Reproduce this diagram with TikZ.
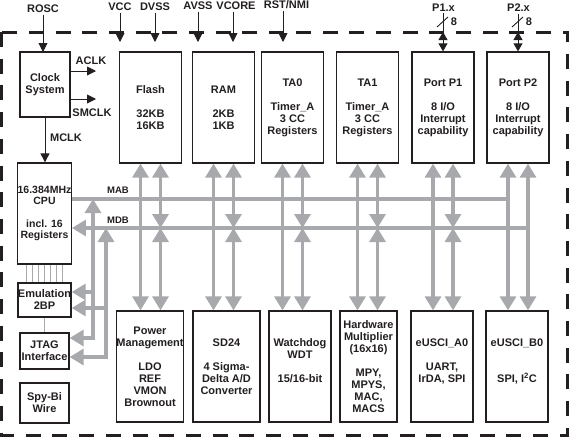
\documentclass[tikz,border=0pt]{standalone}
\usepackage{fontspec}
\setmainfont{Liberation Sans}
\usepackage{tikz}
\usetikzlibrary{arrows.meta,positioning}
\definecolor{ink}{HTML}{231F20}
\definecolor{busgray}{HTML}{A7A9AC}
\tikzset{
  every node/.style={font=\fontsize{11}{12}\selectfont\bfseries,text=ink},
  blk/.style={draw=ink,line width=1.3pt,fill=white,align=center,inner sep=0pt},
  topblk/.style={blk,minimum width=62pt,minimum height=111pt},
  lowblk/.style={blk,minimum height=111pt},
  sideblk/.style={blk,minimum width=49pt},
  pinlbl/.style={inner sep=1.5pt},
  pinarr/.style={draw=ink,line width=0.9pt,-{Triangle[length=9pt,width=9pt]}},
  pindbl/.style={draw=ink,line width=0.9pt,{Triangle[length=8pt,width=9pt]}-{Triangle[length=8pt,width=9pt]}},
  pinline/.style={draw=ink,line width=0.9pt},
  bus/.style={draw=busgray,line width=3.2pt},
  busarr/.style={bus,-{Triangle[length=14pt,width=16pt]}},
  busdbl/.style={bus,{Triangle[length=14pt,width=16pt]}-{Triangle[length=14pt,width=16pt]}},
  link/.style={draw=busgray,line width=0.6pt},
  busname/.style={font=\fontsize{9.5}{10}\selectfont\bfseries},
  border/.style={draw=ink,line width=3pt,dash pattern=on 15pt off 11.7pt}
}
\begin{document}
\begin{tikzpicture}[x=1pt,y=-1pt]
  \useasboundingbox (0,0) rectangle (569,437);
  \draw[border] (1.5,32) rectangle (567.5,435);

  \node[sideblk,minimum width=50pt,minimum height=65pt] (clk) at (45,84.5) {Clock\\System};
  \node[blk,minimum width=52pt,minimum height=101pt,font=\fontsize{10.5}{11.2}\selectfont\bfseries] (cpu) at (44.5,213.5) {16.384MHz\\CPU\\~\\incl. 16\\Registers};
  \node[sideblk,minimum height=34pt] (emu) at (44.5,300) {Emulation\\2BP};
  \node[sideblk,minimum height=36pt] (jtag) at (44.5,351) {JTAG\\Interface};
  \node[sideblk,minimum height=40pt] (spy) at (44.5,403) {Spy-Bi\\Wire};

  \node[topblk] (flash) at (150.5,107.5) {Flash\\~\\32KB\\16KB};
  \node[topblk] (ram) at (223.5,107.5) {RAM\\~\\2KB\\1KB};
  \node[topblk] (ta0) at (292.5,107.5) {TA0\\~\\Timer\_A\\3 CC\\Registers};
  \node[topblk] (ta1) at (367.5,107.5) {TA1\\~\\Timer\_A\\3 CC\\Registers};
  \node[topblk] (p1) at (443,107.5) {Port P1\\~\\8 I/O\\Interrupt\\capability};
  \node[topblk] (p2) at (518,107.5) {Port P2\\~\\8 I/O\\Interrupt\\capability};

  \node[lowblk,minimum width=66pt] (pwr) at (150,366.5) {Power\\Management\\~\\LDO\\REF\\VMON\\Brownout};
  \node[lowblk,minimum width=67pt] (sd) at (226.5,366.5) {SD24\\~\\4 Sigma-\\Delta A/D\\Converter};
  \node[lowblk,minimum width=62pt] (wdt) at (300,366.5) {Watchdog\\WDT\\~\\15/16-bit\\~};
  \node[lowblk,minimum width=57pt] (hwm) at (368.5,366.5) {Hardware\\Multiplier\\(16x16)\\~\\MPY,\\MPYS,\\MAC,\\MACS};
  \node[lowblk,minimum width=62pt] (usa) at (442,366.5) {eUSCI\_A0\\~\\UART,\\IrDA, SPI\\~};
  \node[lowblk,minimum width=62pt] (usb) at (517,366.5) {eUSCI\_B0\\~\\~\\SPI, I\textsuperscript{2}C\\~};

  \node[pinlbl] (rosc) at (43,9) {ROSC};
  \node[pinlbl] (vcc) at (120,7) {VCC};
  \node[pinlbl] (dvss) at (155,7) {DVSS};
  \node[pinlbl] (avss) at (198,6) {AVSS};
  \node[pinlbl] (vcore) at (236,6) {VCORE};
  \node[pinlbl] (rst) at (286.5,5) {RST/NMI};
  \node[pinlbl] (p1x) at (443.5,8) {P1.x};
  \node[pinlbl] (p2x) at (518.5,8) {P2.x};
  \coordinate (roscin) at (43,52);
  \coordinate (vccin) at (120,42);
  \coordinate (dvssin) at (155,42);
  \coordinate (avssin) at (198,42);
  \coordinate (vcorein) at (233,42);
  \coordinate (rstin) at (283,42);
  \coordinate (p1b) at (443,32);
  \coordinate (p2b) at (518,32);

  \draw[pinarr] (rosc.south -| roscin) -- (roscin);
  \draw[pinarr] (vcc.south -| vccin) -- (vccin);
  \draw[pinarr] (dvss.south -| dvssin) -- (dvssin);
  \draw[pinarr] (avss.south -| avssin) -- (avssin);
  \draw[pinarr] (vcore.south -| vcorein) -- (vcorein);
  \draw[pinarr] (rst.south -| rstin) -- (rstin);
  \draw[pinline] (p1x.south -| p1b) -- (p1b);
  \draw[pindbl] (p1b) -- (p1.north);
  \draw[pinline] (p2x.south -| p2b) -- (p2b);
  \draw[pindbl] (p2b) -- (p2.north);
  \draw[pinline] (437,27) -- (448,17);
  \draw[pinline] (512,27) -- (523,17);
  \node[pinlbl] (p1n) at (454,22) {8};
  \node[pinlbl] (p2n) at (529,22) {8};

  \coordinate (aclkend) at (96,71);
  \coordinate (smclkend) at (96,99);
  \node[pinlbl] (aclk) at (91,61) {ACLK};
  \node[pinlbl] (smclk) at (92,112.5) {SMCLK};
  \node[pinlbl] (mclk) at (66,138) {MCLK};
  \draw[pinarr] (clk.east |- aclkend) -- (aclkend);
  \draw[pinarr] (clk.east |- smclkend) -- (smclkend);
  \draw[pinarr] (clk.south) -- (clk.south |- cpu.north);

  \foreach \d in {-18,-12,...,18}
    \draw[link] ([xshift=\d pt]cpu.south) -- ([xshift=\d pt]emu.north);
  \draw[link] (emu.south) -- (jtag.north);

  \coordinate (mab) at (0,199);
  \coordinate (mdb) at (0,228);
  \node[busname] (mabl) at (118,190) {MAB};
  \node[busname] (mdbl) at (118,220) {MDB};
  \draw[bus] (cpu.east |- mab) -- ([xshift=-10pt]p2.south |- mab);
  \draw[busarr] ([xshift=10pt]p2.south |- mdb) -- (cpu.east |- mdb);

  \draw[busdbl] ([xshift=-10pt]flash.south) -- ([xshift=-10pt]flash.south |- pwr.north);
  \draw[busdbl] ([xshift=10pt]flash.south) -- ([xshift=10pt]flash.south |- mdb);
  \draw[busdbl] ([xshift=10pt]flash.south |- mdb) -- ([xshift=10pt]flash.south |- pwr.north);
  \draw[busdbl] ([xshift=-10pt]ram.south) -- ([xshift=-10pt]ram.south |- sd.north);
  \draw[busdbl] ([xshift=10pt]ram.south) -- ([xshift=10pt]ram.south |- mdb);
  \draw[busdbl] ([xshift=10pt]ram.south |- mdb) -- ([xshift=10pt]ram.south |- sd.north);
  \draw[busdbl] ([xshift=-10pt]ta0.south) -- ([xshift=-10pt]ta0.south |- wdt.north);
  \draw[busdbl] ([xshift=10pt]ta0.south) -- ([xshift=10pt]ta0.south |- mdb);
  \draw[busdbl] ([xshift=10pt]ta0.south |- mdb) -- ([xshift=10pt]ta0.south |- wdt.north);
  \draw[busdbl] ([xshift=-10pt]ta1.south) -- ([xshift=-10pt]ta1.south |- hwm.north);
  \draw[busdbl] ([xshift=10pt]ta1.south) -- ([xshift=10pt]ta1.south |- mdb);
  \draw[busdbl] ([xshift=10pt]ta1.south |- mdb) -- ([xshift=10pt]ta1.south |- hwm.north);
  \draw[busdbl] ([xshift=-10pt]p1.south) -- ([xshift=-10pt]p1.south |- usa.north);
  \draw[busdbl] ([xshift=10pt]p1.south) -- ([xshift=10pt]p1.south |- mdb);
  \draw[busdbl] ([xshift=10pt]p1.south |- mdb) -- ([xshift=10pt]p1.south |- usa.north);
  \draw[busdbl] ([xshift=-10pt]p2.south) -- ([xshift=-10pt]p2.south |- usb.north);
  \draw[busdbl] ([xshift=10pt]p2.south) -- ([xshift=10pt]p2.south |- usb.north);

  \coordinate (ja) at (93,338);
  \coordinate (jb) at (106,357);
  \coordinate (ea) at (93,292);
  \coordinate (eb) at (106,308);
  \draw[busdbl] (ja |- mab) -- (ja) -- (jtag.east |- ja);
  \draw[busdbl] (jb |- mdb) -- (jb) -- (jtag.east |- jb);
  \draw[busarr] (ea) -- (emu.east |- ea);
  \draw[busarr] (eb) -- (emu.east |- eb);
\end{tikzpicture}
\end{document}
